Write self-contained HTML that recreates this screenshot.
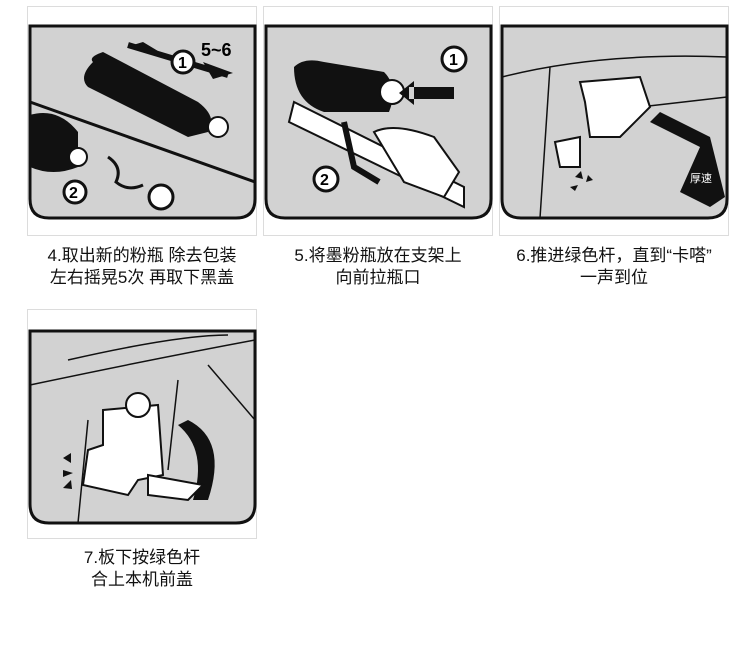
<!DOCTYPE html>
<html><head><meta charset="utf-8"><style>
body{margin:0;width:750px;height:645px;background:#fff;position:relative;overflow:hidden;font-family:"Liberation Sans","Noto Sans CJK SC",sans-serif}
.p{position:absolute;width:230px;height:230px;border:1px solid #dcdcdc;box-sizing:border-box}
.cap{position:absolute;width:240px;text-align:center;font-size:17px;line-height:22px;color:#111}
svg{position:absolute;left:0;top:0}
</style></head><body>

<div class="p" style="left:27px;top:6px">
<svg width="230" height="230" viewBox="0 0 230 230">
<path d="M2,19 H227 V192 Q227,211 208,211 H21 Q2,211 2,192 Z" fill="#d2d2d2" stroke="#111" stroke-width="3"/>
<path d="M2,95 L227,175" stroke="#111" stroke-width="3"/>
<path d="M65,55 Q60,50 75,45 L170,95 Q190,110 180,125 L160,130 L60,80 Q50,70 65,55Z" fill="#111"/>
<circle cx="190" cy="120" r="10" fill="#fff" stroke="#111" stroke-width="2"/>
<path d="M105,38 L130,44 L115,35Z M175,55 L205,66 L185,72Z" fill="#111"/>
<path d="M100,38 L200,68" stroke="#111" stroke-width="6"/>
<circle cx="155" cy="55" r="11" fill="#fff" stroke="#111" stroke-width="3"/>
<text x="150" y="61" font-size="16" font-weight="bold">1</text>
<text x="173" y="49" font-size="18" font-weight="bold">5~6</text>
<path d="M2,108 Q30,100 50,125 L50,160 Q25,170 2,160Z" fill="#111"/>
<circle cx="50" cy="150" r="9" fill="#fff" stroke="#111" stroke-width="2"/>
<circle cx="133" cy="190" r="12" fill="#fff" stroke="#111" stroke-width="3"/>
<circle cx="47" cy="185" r="11" fill="#fff" stroke="#111" stroke-width="3"/>
<text x="41" y="191" font-size="16" font-weight="bold">2</text>
<path d="M80,150 Q95,160 88,175 Q100,185 115,178" fill="none" stroke="#111" stroke-width="3"/>
</svg></div>
<div class="cap" style="left:22px;top:245px">4.取出新的粉瓶 除去包装<br>左右摇晃5次 再取下黑盖</div>

<div class="p" style="left:263px;top:6px">
<svg width="230" height="230" viewBox="0 0 230 230">
<path d="M2,19 H227 V192 Q227,211 208,211 H21 Q2,211 2,192 Z" fill="#d2d2d2" stroke="#111" stroke-width="3"/>
<path d="M30,60 Q40,50 60,55 L120,65 Q135,80 125,105 L60,105 Q30,95 30,60Z" fill="#111"/>
<circle cx="128" cy="85" r="12" fill="#fff" stroke="#111" stroke-width="2"/>
<path d="M30,95 L200,180 L200,200 L25,115Z" fill="#fff" stroke="#111" stroke-width="2"/>
<path d="M110,125 Q130,115 170,130 L195,165 L180,190 L140,175 Z" fill="#fff" stroke="#111" stroke-width="2"/>
<path d="M145,80 L190,80 L190,92 L145,92Z M150,74 L135,86 L150,98Z" fill="#111"/>
<path d="M80,115 L90,160 L115,175" fill="none" stroke="#111" stroke-width="6"/>
<circle cx="190" cy="52" r="12" fill="#fff" stroke="#111" stroke-width="3"/>
<text x="185" y="58" font-size="16" font-weight="bold">1</text>
<circle cx="62" cy="172" r="12" fill="#fff" stroke="#111" stroke-width="3"/>
<text x="56" y="178" font-size="16" font-weight="bold">2</text>
</svg></div>
<div class="cap" style="left:258px;top:245px">5.将墨粉瓶放在支架上<br>向前拉瓶口</div>

<div class="p" style="left:499px;top:6px">
<svg width="230" height="230" viewBox="0 0 230 230">
<path d="M2,19 H227 V192 Q227,211 208,211 H21 Q2,211 2,192 Z" fill="#d2d2d2" stroke="#111" stroke-width="3"/>
<path d="M2,70 Q100,45 227,50 M50,60 L40,211 M140,100 L227,90" fill="none" stroke="#111" stroke-width="1.5"/>
<path d="M80,75 L140,70 L150,100 L120,130 L90,130 L85,95Z" fill="#fff" stroke="#111" stroke-width="2"/>
<path d="M55,135 L80,130 L80,160 L60,160Z" fill="#fff" stroke="#111" stroke-width="2"/>
<path d="M150,115 L200,140 L180,185 L210,200 L225,190 L210,130 L160,105Z" fill="#111"/>
<text x="190" y="175" font-size="11" fill="#fff">厚速</text>
<path d="M75,170 l6,-6 l2,8Z M88,168 l5,5 l-7,2Z M70,180 l8,-2 l-3,6Z" fill="#111"/>
</svg></div>
<div class="cap" style="left:494px;top:245px">6.推进绿色杆，直到“卡嗒”<br>一声到位</div>

<div class="p" style="left:27px;top:309px">
<svg width="230" height="230" viewBox="0 0 230 230">
<path d="M2,21 H227 V194 Q227,213 208,213 H21 Q2,213 2,194 Z" fill="#d2d2d2" stroke="#111" stroke-width="3"/>
<path d="M2,75 Q120,50 227,30 M40,50 Q150,25 200,25 M60,110 L50,213 M150,70 L140,160 M180,55 L227,110" fill="none" stroke="#111" stroke-width="1.5"/>
<path d="M75,100 L130,95 L135,165 L110,170 L100,185 L55,175 L60,140 L75,135Z" fill="#fff" stroke="#111" stroke-width="2"/>
<circle cx="110" cy="95" r="12" fill="#fff" stroke="#111" stroke-width="2"/>
<path d="M160,110 Q200,130 180,190 L165,190 Q180,140 150,115Z" fill="#111"/>
<path d="M120,165 L175,175 L160,190 L120,185Z" fill="#fff" stroke="#111" stroke-width="2"/>
<path d="M35,148 l8,-5 l0,10Z M35,160 l10,3 l-10,4Z M35,178 l8,-8 l1,9Z" fill="#111"/>
</svg></div>
<div class="cap" style="left:22px;top:547px">7.板下按绿色杆<br>合上本机前盖</div>

</body></html>
